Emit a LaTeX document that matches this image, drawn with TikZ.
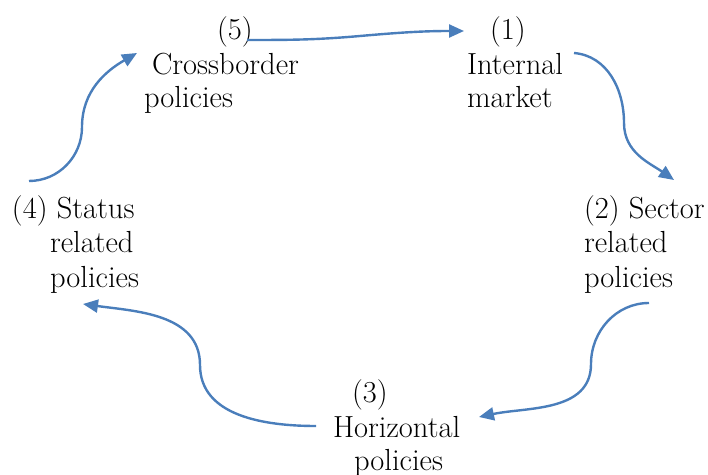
\documentclass[tikz,border=0pt]{standalone}
\usetikzlibrary{arrows.meta}
\definecolor{connblue}{HTML}{4A7EBB}
\begin{document}
\begin{tikzpicture}[x=1pt,y=1pt,
  lbl/.style={anchor=base west,inner sep=0pt,outer sep=0pt,font=\fontsize{30.5}{34}\selectfont},
  conn/.style={draw=connblue,line width=2.4pt,-{Triangle[length=15pt,width=13pt]}}]
\useasboundingbox (0,0) rectangle (708,474);
% node 5
\node[lbl] (n5a) at (217,434) {(5)};
\node[lbl] (n5b) at (152,399) {Crossborder};
\node[lbl] (n5c) at (144,366) {policies};
% node 1
\node[lbl] (n1a) at (490,434) {(1)};
\node[lbl] (n1b) at (467,399) {Internal};
\node[lbl] (n1c) at (467,366) {market};
% node 2
\node[lbl] (n2a) at (584,255) {(2) Sector};
\node[lbl] (n2b) at (584,221) {related};
\node[lbl] (n2c) at (584,187) {policies};
% node 3
\node[lbl] (n3a) at (352,72) {(3)};
\node[lbl] (n3b) at (333,37) {Horizontal};
\node[lbl] (n3c) at (354,4) {policies};
% node 4
\node[lbl] (n4a) at (12,255) {(4) Status};
\node[lbl] (n4b) at (50,221) {related};
\node[lbl] (n4c) at (50,187) {policies};
% connector ends
\coordinate (s51) at (247,434); \coordinate (m51) at (360,438); \coordinate (e51) at (464,443);
\coordinate (s12) at (574,421); \coordinate (m12) at (624,351); \coordinate (e12) at (674,294);
\coordinate (s23) at (649,171); \coordinate (m23) at (591,110); \coordinate (e23) at (479,57);
\coordinate (s34) at (316,48);  \coordinate (m34) at (200,109); \coordinate (e34) at (83,170);
\coordinate (s45) at (29,293);  \coordinate (m45) at (82,347);  \coordinate (e45) at (137,421);
\draw[conn] (s51) to[out=0,in=185] (m51) to[out=5,in=180] (e51);
\draw[conn] (s12) to[out=-5,in=90] (m12) to[out=-90,in=145] (e12);
\draw[conn] (s23) to[out=180,in=90] (m23) to[out=-90,in=12] (e23);
\draw[conn] (s34) to[out=180,in=-90] (m34) to[out=90,in=-8] (e34);
\draw[conn] (s45) to[out=0,in=-90] (m45) to[out=90,in=210] (e45);
\end{tikzpicture}
\end{document}
